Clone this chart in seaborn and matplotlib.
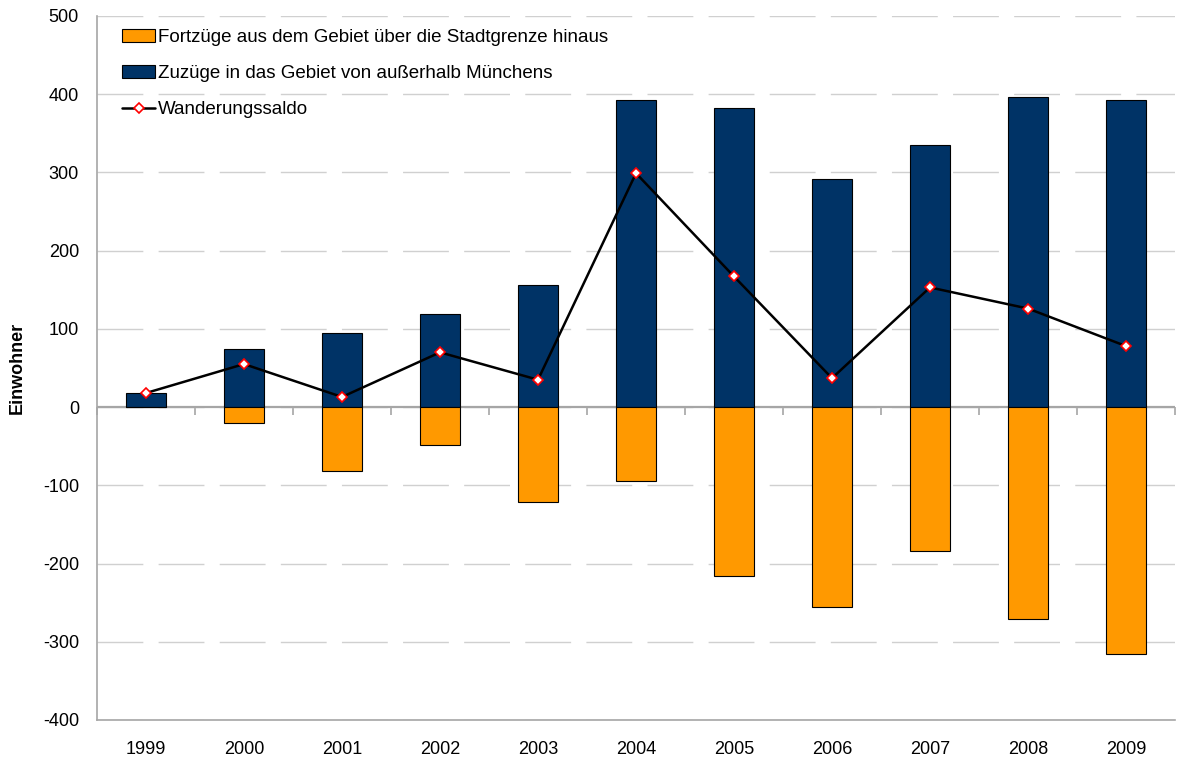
import numpy as np
import pandas as pd
import seaborn as sns
import matplotlib.pyplot as plt
from matplotlib.patches import Patch
from matplotlib.lines import Line2D

jahre = ['1999', '2000', '2001', '2002', '2003', '2004', '2005', '2006', '2007', '2008', '2009']
zuzuege = [18, 74, 95, 119, 156, 393, 382, 292, 335, 396, 393]
fortzuege = [0, -20, -82, -49, -121, -95, -216, -256, -184, -271, -316]
saldo = [18, 55, 13, 70, 35, 299, 167, 37, 153, 126, 78]

df = pd.DataFrame({'Jahr': jahre, 'Zuzuege': zuzuege, 'Fortzuege': fortzuege, 'Saldo': saldo})

sns.set_style('white')
plt.rcParams['font.family'] = ['Liberation Sans', 'DejaVu Sans']
plt.rcParams['axes.unicode_minus'] = False
plt.rcParams['text.color'] = 'black'
plt.rcParams['xtick.color'] = 'black'
plt.rcParams['ytick.color'] = 'black'
plt.rcParams['axes.labelcolor'] = 'black'

fig, ax = plt.subplots(figsize=(11.81, 7.63), dpi=100)
fig.subplots_adjust(left=97/1181, right=1175/1181, top=1-16/763, bottom=1-720/763)

orange = '#FF9900'
navy = '#003366'
fs = 13

sns.barplot(data=df, x='Jahr', y='Zuzuege', color=navy, width=0.4, saturation=1,
            edgecolor='black', linewidth=0.8, ax=ax, zorder=3)
sns.barplot(data=df, x='Jahr', y='Fortzuege', color=orange, width=0.4, saturation=1,
            edgecolor='black', linewidth=0.8, ax=ax, zorder=3)
ax.plot(np.arange(len(jahre)), df['Saldo'], color='black', lw=1.8, marker='D',
        ms=5, mfc='white', mec='red', mew=1.2, zorder=5)

ax.set_ylim(-400, 500)
ax.set_xlim(-0.5, len(jahre) - 0.5)
ax.set_yticks(range(-400, 501, 100))
ax.yaxis.grid(True, linestyle=(0, (33, 11)), color='#d0d0d0', lw=1)
ax.set_axisbelow(True)
ax.axhline(0, color='#a6a6a6', lw=1.6, zorder=2)

# kleine Striche an der Nulllinie zwischen den Jahren
sek = ax.secondary_xaxis(400/900)
sek.set_xticks(np.arange(-0.5, len(jahre), 1))
sek.set_xticklabels([])
sek.tick_params(axis='x', direction='out', length=6, color='#a6a6a6', width=1.2)
sek.spines['bottom'].set_visible(False)

for s in ['top', 'right']:
    ax.spines[s].set_visible(False)
for s in ['left', 'bottom']:
    ax.spines[s].set_color('#a6a6a6')
    ax.spines[s].set_linewidth(1.2)

ax.tick_params(axis='y', direction='out', length=6, color='#a6a6a6', width=1.2,
               labelsize=fs, labelcolor='black', pad=7)
ax.tick_params(axis='x', length=0, labelsize=fs, labelcolor='black', pad=15)
ax.set_xlabel('')
ax.set_ylabel('Einwohner', fontsize=fs, fontweight='bold', labelpad=12)

handles = [
    Patch(facecolor=orange, edgecolor='black', linewidth=0.8),
    Patch(facecolor=navy, edgecolor='black', linewidth=0.8),
    Line2D([], [], color='black', lw=1.8, marker='D', ms=5, mfc='white', mec='red', mew=1.2),
]
labels = ['Fortzüge aus dem Gebiet über die Stadtgrenze hinaus',
          'Zuzüge in das Gebiet von außerhalb Münchens',
          'Wanderungssaldo']
ax.legend(handles, labels, loc='upper left', frameon=False, fontsize=13.5,
          labelspacing=1.0, handlelength=1.75, handletextpad=0.12,
          bbox_to_anchor=(0.008, 1.005))

plt.savefig('out.png', dpi=100)
